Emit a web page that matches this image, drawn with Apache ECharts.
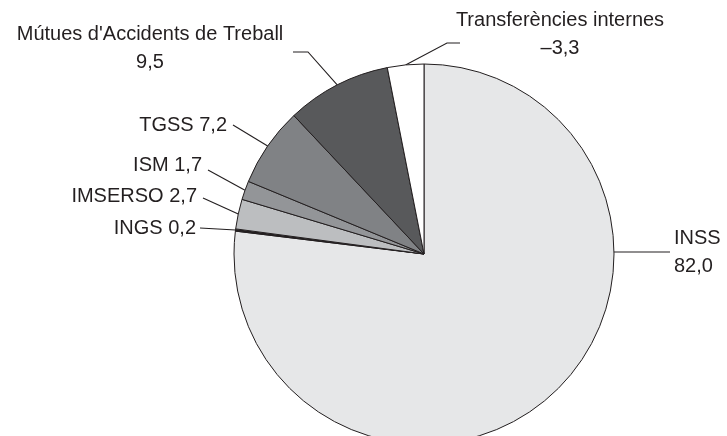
<!DOCTYPE html>
<html>
<head>
<meta charset="utf-8">
<script src="https://cdn.jsdelivr.net/npm/echarts@6/dist/echarts.min.js"></script>
<style>
html,body{margin:0;padding:0;background:#fff;}
#chart{width:727px;height:436px;}
</style>
</head>
<body>
<div id="chart"></div>
<script>
// Data
const categories = ['INSS', 'INGS', 'IMSERSO', 'ISM', 'TGSS', "Mútues d'Accidents de Treball", 'Transferències internes'];
const values = [82.0, 0.2, 2.7, 1.7, 7.2, 9.5, -3.3];
const sliceColors = ['#e6e7e8', '#231f20', '#bcbec0', '#939598', '#808285', '#58595b', '#ffffff'];

// Layout / style constants
const CX = 424, CY = 254, R = 190;
const twoLine = [true, false, false, false, false, true, true];
// text anchor position
const labelPos = [
  {x: 674, y: 252, align: 'left'},
  {x: 196, y: 228, align: 'right'},
  {x: 197, y: 196, align: 'right'},
  {x: 202, y: 165, align: 'right'},
  {x: 227, y: 125, align: 'right'},
  {x: 150, y: 48, align: 'center'},
  {x: 560, y: 34, align: 'center'}
];
// where the guide line meets the label, and optional horizontal elbow
const lineEnd = [[670, 252], [200, 228], [203, 198], [208, 170], [233, 125], [293, 52], [460, 43]];
const elbow = [null, null, null, null, null, [308, 52], [447, 43]];
const horizontalAnchor = [true, false, false, false, false, false, false];

function fmt(v) {
  const s = Math.abs(v).toFixed(1).replace('.', ',');
  return v < 0 ? '\u2013' + s : s;
}

const chart = echarts.init(document.getElementById('chart'), null, {renderer: 'canvas'});
const data = categories.map((c, i) => ({
  name: c,
  value: Math.abs(values[i]),
  itemStyle: {color: sliceColors[i]},
  label: {
    formatter: c + (twoLine[i] ? '\n' : ' ') + fmt(values[i]),
    align: labelPos[i].align
  }
}));

chart.setOption({
  animation: false,
  backgroundColor: '#ffffff',
  series: [{
    type: 'pie',
    center: [CX, CY],
    radius: [0, R],
    startAngle: 90,
    clockwise: true,
    avoidLabelOverlap: false,
    data: data,
    itemStyle: {borderColor: '#231f20', borderWidth: 1},
    emphasis: {disabled: true},
    label: {
      show: true,
      position: 'outside',
      color: '#231f20',
      fontFamily: 'Liberation Sans',
      fontSize: 20,
      lineHeight: 28
    },
    labelLine: {
      show: true,
      length: 10,
      length2: 10,
      lineStyle: {color: '#231f20', width: 1.1}
    },
    labelLayout: function (params) {
      const i = params.dataIndex;
      const p = labelPos[i];
      const end = lineEnd[i];
      let start;
      if (horizontalAnchor[i]) {
        const dy = end[1] - CY;
        start = [CX + Math.sqrt(R * R - dy * dy), end[1]];
      } else {
        start = params.labelLinePoints[0];
      }
      const pts = elbow[i] ? [start, elbow[i], end] : [start, end];
      return {x: p.x, y: p.y, align: p.align, verticalAlign: 'middle', labelLinePoints: pts};
    }
  }]
});
</script>
</body>
</html>
